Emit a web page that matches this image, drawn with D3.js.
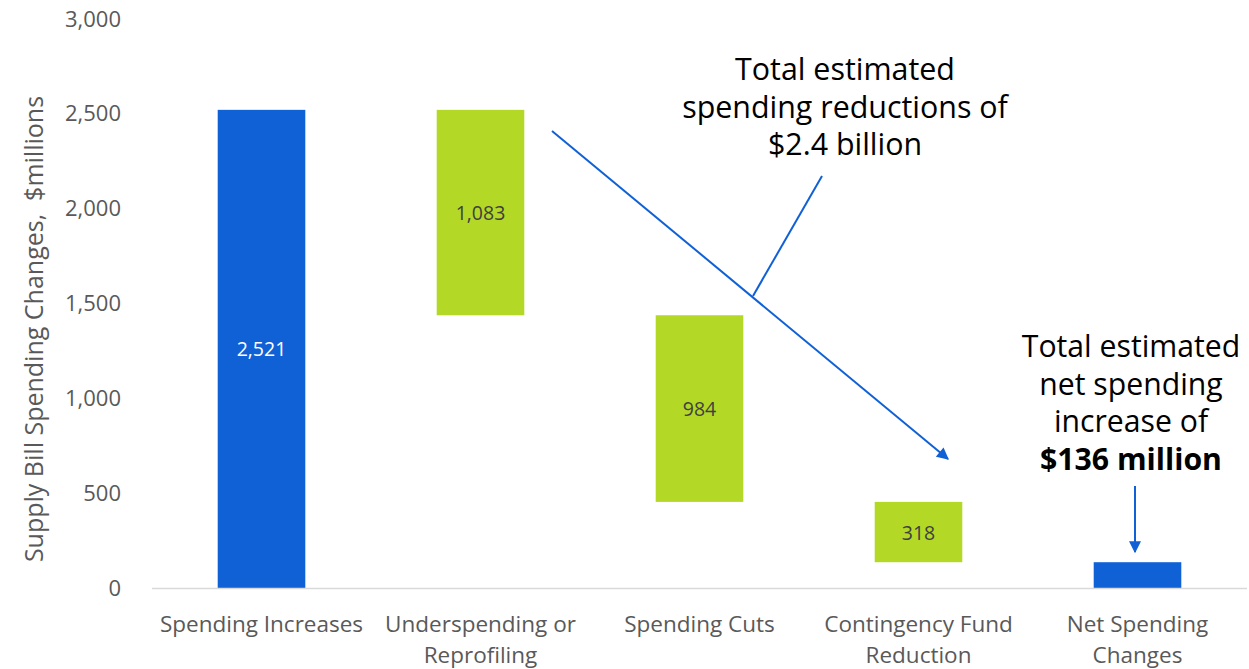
<!DOCTYPE html>
<html><head><meta charset="utf-8">
<script src="https://cdn.jsdelivr.net/npm/d3@7"></script>
<style>body{margin:0;background:#fff}svg{display:block}text{font-family:"Open Sans","Noto Sans",sans-serif}</style>
</head><body><svg id="c" width="1249" height="669"></svg>
<script>
const categories = [["Spending Increases"],["Underspending or","Reprofiling"],["Spending Cuts"],["Contingency Fund","Reduction"],["Net Spending","Changes"]];
const values = [2521, -1083, -984, -318, 136];
const kinds = ["total","decrease","decrease","decrease","total"];
const labels = ["2,521","1,083","984","318",""];
const yTicks = [0,500,1000,1500,2000,2500,3000];
const yTitle = "Supply Bill Spending Changes,  $millions";
const note1 = ["Total estimated","spending reductions of","$2.4 billion"];
const note2 = ["Total estimated","net spending","increase of"];
const note2Bold = "$136 million";

const svg = d3.select("#c");
const x = d3.scaleBand().domain(d3.range(categories.length)).range([152,1247]).paddingInner(0.6).paddingOuter(0.3);
const y = d3.scaleLinear().domain([0,3000]).range([588,19]);

let run = 0;
const bars = values.map((v,i)=>{
  let lo, hi;
  if (kinds[i]==="total"){ lo=0; hi=v; run=v; }
  else { hi=run; lo=run+v; run=lo; }
  return {i,lo,hi,kind:kinds[i],label:labels[i]};
});

const defs = svg.append("defs");
defs.append("marker").attr("id","ah").attr("viewBox","0 0 10 10").attr("refX",9).attr("refY",5)
  .attr("markerWidth",7).attr("markerHeight",6).attr("markerUnits","strokeWidth").attr("orient","auto")
  .append("path").attr("d","M0,0L10,5L0,10z").attr("fill","#1060d6");

const ya = svg.append("g").attr("transform","translate(121,0)")
  .call(d3.axisLeft(y).tickValues(yTicks).tickSize(0).tickPadding(0).tickFormat(d3.format(",")));
ya.select(".domain").remove();
ya.selectAll("text").attr("font-size",22).attr("fill","#595959").attr("font-family","'Open Sans',sans-serif");

svg.append("text").attr("transform","translate(33,329) rotate(-90)").attr("text-anchor","middle")
  .attr("dominant-baseline","central").attr("font-size",25).attr("fill","#595959")
  .style("white-space","pre").text(yTitle);

svg.selectAll("rect.bar").data(bars).join("rect").attr("class","bar")
  .attr("x",d=>x(d.i)).attr("width",x.bandwidth())
  .attr("y",d=>y(d.hi)).attr("height",d=>y(d.lo)-y(d.hi))
  .attr("fill",d=>d.kind==="total"?"#1060d6":"#b3d926");

svg.selectAll("text.val").data(bars.filter(d=>d.label)).join("text").attr("class","val")
  .attr("x",d=>x(d.i)+x.bandwidth()/2).attr("y",d=>(y(d.lo)+y(d.hi))/2)
  .attr("text-anchor","middle").attr("dominant-baseline","central").attr("font-size",19.5)
  .attr("fill",d=>d.kind==="total"?"#ffffff":"#404040").text(d=>d.label);

svg.append("line").attr("x1",152).attr("x2",1247).attr("y1",y(0)+0.5).attr("y2",y(0)+0.5)
  .attr("stroke","#d9d9d9").attr("stroke-width",1.5);

const cl = svg.selectAll("text.cat").data(categories).join("text").attr("class","cat")
  .attr("text-anchor","middle").attr("font-size",22.5).attr("fill","#595959");
cl.each(function(lines,i){
  const t=d3.select(this);
  lines.forEach((s,j)=>t.append("tspan").attr("x",x(i)+x.bandwidth()/2).attr("y",632+j*31).text(s));
});

const a1 = svg.append("text").attr("text-anchor","middle").attr("font-size",30.4).attr("fill","#000");
note1.forEach((s,j)=>a1.append("tspan").attr("x",845).attr("y",80+j*37.5).text(s));
svg.append("line").attr("x1",552).attr("y1",131).attr("x2",948).attr("y2",459)
  .attr("stroke","#1060d6").attr("stroke-width",2).attr("marker-end","url(#ah)");
svg.append("line").attr("x1",822).attr("y1",176).attr("x2",753).attr("y2",296)
  .attr("stroke","#1060d6").attr("stroke-width",2);

const a2 = svg.append("text").attr("text-anchor","middle").attr("font-size",30.2).attr("fill","#000");
note2.forEach((s,j)=>a2.append("tspan").attr("x",1131).attr("y",357+j*37.5).text(s));
a2.append("tspan").attr("x",1131).attr("y",357+3*37.5).attr("font-weight","bold").text(note2Bold);
svg.append("line").attr("x1",1135).attr("y1",486).attr("x2",1135).attr("y2",552)
  .attr("stroke","#1060d6").attr("stroke-width",2).attr("marker-end","url(#ah)");
</script></body></html>
